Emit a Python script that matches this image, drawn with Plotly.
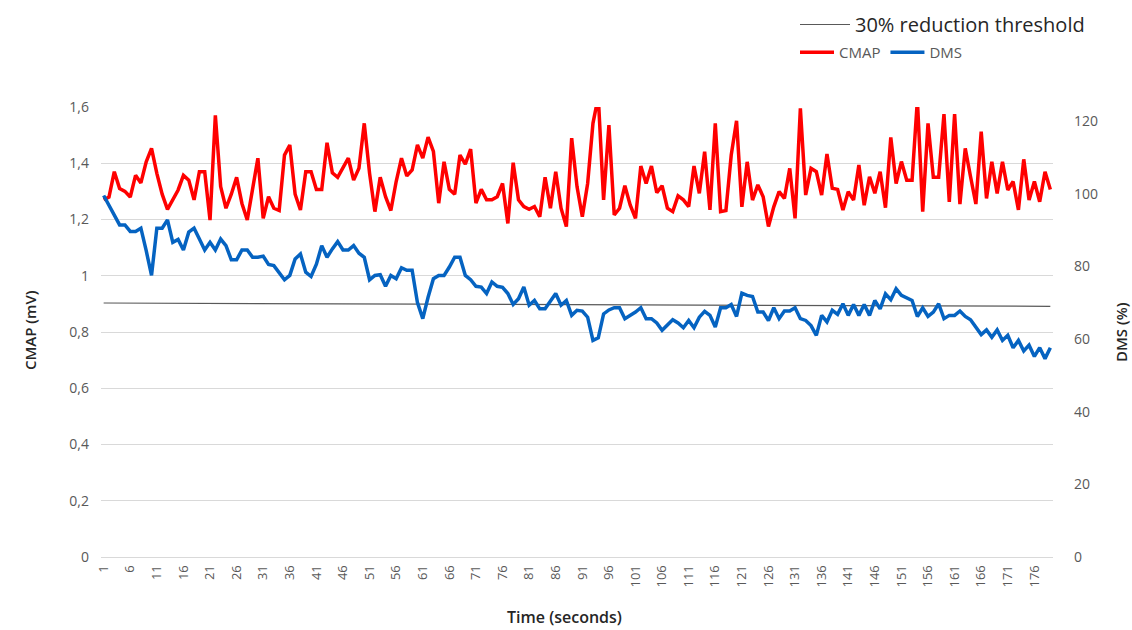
import plotly.graph_objects as go

time_s = list(range(1, 180))

cmap_mv = [
    1.27, 1.28, 1.37, 1.31, 1.30, 1.28, 1.357, 1.33, 1.405, 1.453,
    1.364, 1.29, 1.236, 1.27, 1.305, 1.357, 1.34, 1.27, 1.37, 1.37,
    1.198, 1.57, 1.317, 1.24, 1.29, 1.35, 1.257, 1.198, 1.317, 1.418,
    1.204, 1.281, 1.24, 1.232, 1.429, 1.465, 1.29, 1.234, 1.37, 1.37,
    1.307, 1.307, 1.473, 1.366, 1.35, 1.382, 1.418, 1.34, 1.382, 1.542,
    1.364, 1.228, 1.35, 1.281, 1.232, 1.335, 1.418, 1.355, 1.376, 1.465,
    1.418, 1.493, 1.442, 1.258, 1.405, 1.307, 1.29, 1.429, 1.397, 1.45,
    1.258, 1.307, 1.27, 1.27, 1.281, 1.328, 1.186, 1.402, 1.27, 1.246,
    1.236, 1.246, 1.21, 1.35, 1.24, 1.37, 1.24, 1.175,
    1.489, 1.317, 1.21, 1.328, 1.542, 1.637, 1.27, 1.536, 1.216, 1.24,
    1.32, 1.252, 1.204, 1.39, 1.328, 1.39, 1.295, 1.32, 1.24, 1.228,
    1.284, 1.27, 1.246, 1.39, 1.293, 1.441, 1.234, 1.542, 1.228, 1.232,
    1.429, 1.551,
    1.245, 1.405, 1.269, 1.323, 1.281, 1.175, 1.245, 1.299, 1.275, 1.382,
    1.204, 1.595, 1.287, 1.382, 1.37, 1.287, 1.433, 1.311, 1.307, 1.234,
    1.299, 1.269, 1.394, 1.251, 1.352, 1.293, 1.37, 1.242, 1.492, 1.328,
    1.406, 1.34, 1.34, 1.625, 1.228, 1.542, 1.35, 1.35, 1.575, 1.263,
    1.575, 1.255, 1.453, 1.352, 1.255, 1.512, 1.275, 1.405, 1.293, 1.405,
    1.305, 1.335, 1.234, 1.414, 1.269, 1.335, 1.263, 1.37, 1.307,
]

dms_pct = [
    99.5, 96.7, 93.9, 91.4, 91.4, 89.6, 89.6, 90.5, 84.3, 77.5,
    90.5, 90.5, 92.8, 86.6, 87.4, 84.5, 89.4, 90.5, 87.5, 84.5,
    86.6, 84.5, 87.5, 85.7, 81.8, 81.8, 84.5, 84.5, 82.5, 82.5,
    82.8, 80.5, 80.2, 78.4, 76.3, 77.5, 82.0, 83.4, 78.4, 77.2,
    80.6, 85.7, 82.5, 84.8, 86.8, 84.5, 84.5, 85.7, 83.6, 82.5,
    76.3, 77.5, 77.7, 74.5, 77.5, 76.6, 79.6, 78.9, 78.9, 70.0,
    65.6, 71.5, 76.6, 77.5, 77.5, 79.8, 82.5, 82.5, 77.5, 76.3,
    74.5, 74.3, 72.5, 75.7, 74.5, 74.2, 72.5, 69.5, 71.1, 74.3,
    69.3, 70.6, 68.3, 68.3, 70.6, 72.5, 69.3, 70.6,
    66.5, 67.9, 67.7, 66.0, 59.6, 60.3, 66.9, 68.0, 68.6, 68.6,
    65.6, 66.5, 67.4, 68.6, 65.6, 65.6, 64.4, 62.4, 63.7, 65.3,
    64.4, 63.1, 65.1, 63.1, 66.0, 67.6, 66.5, 63.3, 68.6, 68.6,
    69.5, 66.2,
    72.6, 72.0, 71.7, 67.4, 67.4, 65.1, 68.6, 65.6, 67.7, 67.7,
    68.6, 65.6, 65.1, 63.7, 61.0, 66.5, 64.7, 67.9, 66.8, 69.7,
    66.5, 69.5, 66.5, 69.5, 66.5, 70.6, 68.3, 72.4, 70.8, 73.8,
    72.0, 71.3, 70.6, 66.2, 68.6, 66.2, 67.4, 69.7, 65.6, 66.5,
    66.5, 67.7, 66.2, 65.3, 63.1, 61.2, 62.5, 60.5, 62.5, 59.6,
    61.0, 57.6, 59.6, 56.7, 58.3, 55.2, 57.6, 54.6, 57.6,
]

threshold_x = [1, 179]
threshold_pct = [69.9, 69.0]

x_ticks = list(range(1, 180, 5))
left_ticks = [0, 0.2, 0.4, 0.6, 0.8, 1.0, 1.2, 1.4, 1.6]
right_ticks = [0, 20, 40, 60, 80, 100, 120]

FONT = "Open Sans"
TXT = "#595959"
DARK = "#262626"

W, H = 1132, 630
L, R, T, B = 101, 79, 107, 73
PW, PH = W - L - R, H - T - B


def px_x(p):
    return (p - L) / PW


def px_y(p):
    return (H - B - p) / PH


fig = go.Figure()
fig.add_trace(go.Scatter(
    x=threshold_x, y=threshold_pct, mode="lines", yaxis="y2",
    name="30% reduction threshold", line=dict(color="#595959", width=1.2),
    legend="legend",
))
fig.add_trace(go.Scatter(
    x=time_s, y=cmap_mv, mode="lines", name="CMAP",
    line=dict(color="#ff0000", width=3.5), legend="legend2",
))
fig.add_trace(go.Scatter(
    x=time_s, y=dms_pct, mode="lines", name="DMS", yaxis="y2",
    line=dict(color="#0563c1", width=3.5), legend="legend2",
))

fig.update_layout(
    width=W, height=H,
    margin=dict(l=L, r=R, t=T, b=B, autoexpand=False),
    paper_bgcolor="white", plot_bgcolor="white",
    separators=",.",
    font=dict(family=FONT, size=13, color=TXT),
    xaxis=dict(
        range=[0.5, 179.5], tickvals=x_ticks, tickangle=-90,
        showgrid=False, showline=True, linecolor="#d9d9d9", linewidth=1,
        ticks="", tickfont=dict(size=13, color=TXT), ticklabelstandoff=2,
        zeroline=False, automargin=False,
    ),
    yaxis=dict(
        range=[0, 1.6], tickvals=left_ticks, showgrid=True, gridcolor="#d9d9d9",
        gridwidth=1, zeroline=False, showline=False, automargin=False,
        tickfont=dict(size=14, color=TXT), ticklabelstandoff=11,
    ),
    yaxis2=dict(
        range=[0, 123.85], tickvals=right_ticks, overlaying="y", side="right",
        showgrid=False, zeroline=False, showline=False, automargin=False,
        tickfont=dict(size=14, color=TXT), ticklabelstandoff=20,
    ),
    legend=dict(
        xref="container", yref="container",
        x=795 / W, y=1 - 5 / H, xanchor="left", yanchor="top",
        orientation="h",
        font=dict(size=20, color=DARK), bgcolor="rgba(0,0,0,0)", itemwidth=50,
    ),
    legend2=dict(
        xref="container", yref="container",
        x=795 / W, y=1 - 36 / H, xanchor="left", yanchor="top",
        orientation="h",
        font=dict(size=15, color=TXT), bgcolor="rgba(0,0,0,0)", itemwidth=34,
    ),
    showlegend=True,
    annotations=[
        dict(text="CMAP (mV)", xref="paper", yref="paper", x=px_x(30), y=px_y(330),
             textangle=-90, showarrow=False, xanchor="center", yanchor="middle",
             font=dict(size=15, color=DARK, weight=600)),
        dict(text="DMS (%)", xref="paper", yref="paper", x=px_x(1121), y=px_y(332),
             textangle=-90, showarrow=False, xanchor="center", yanchor="middle",
             font=dict(size=15, color=DARK, weight=600)),
        dict(text="Time (seconds)", xref="paper", yref="paper", x=px_x(564), y=px_y(617),
             showarrow=False, xanchor="center", yanchor="middle",
             font=dict(size=16, color=DARK, weight=600)),
    ],
)

fig.write_html(
    "out.html",
    config={"displayModeBar": False},
    post_script="document.body.style.margin='0';document.body.style.overflow='hidden';",
)
